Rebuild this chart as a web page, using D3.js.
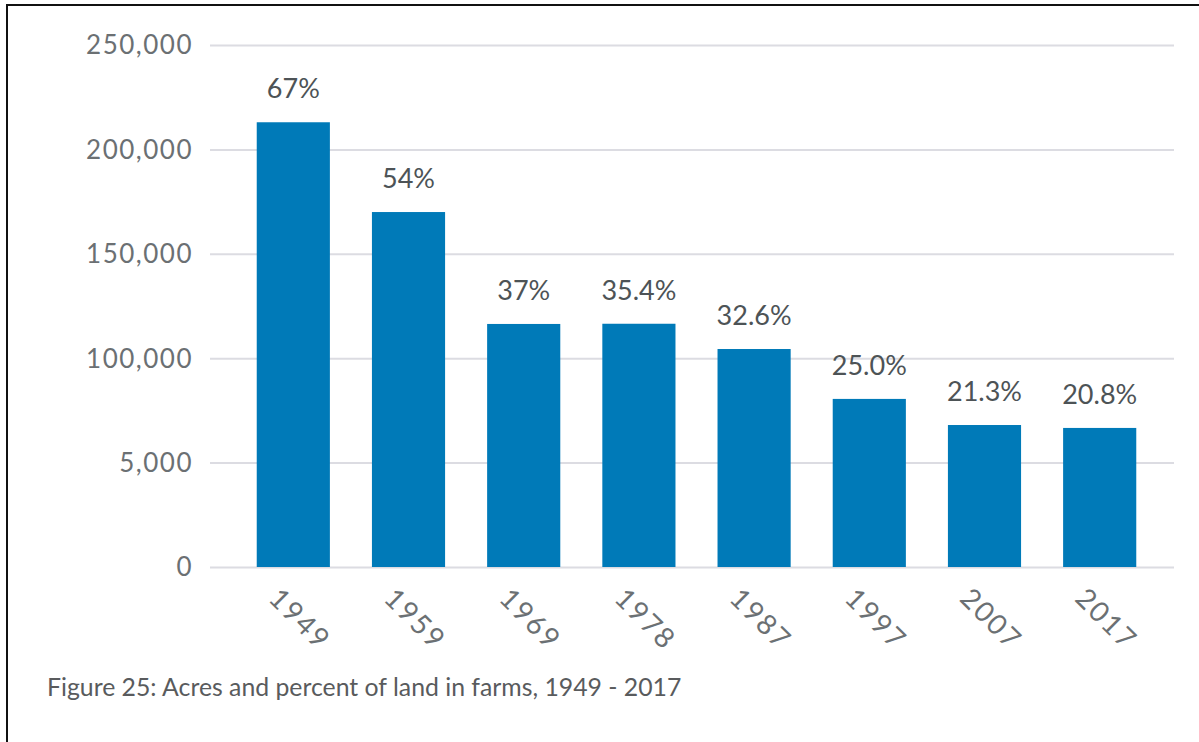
<!DOCTYPE html>
<html>
<head>
<meta charset="utf-8">
<script src="https://cdn.jsdelivr.net/npm/d3@7"></script>
<style>
  html, body { margin: 0; padding: 0; background: #fff; }
  svg { display: block; }
</style>
</head>
<body>
<div id="chart"></div>
<script>
// data
var years = ["1949", "1959", "1969", "1978", "1987", "1997", "2007", "2017"]
var acres = [213000, 170000, 116400, 116500, 104400, 80500, 68000, 66600]
var pctLabels = ["67%", "54%", "37%", "35.4%", "32.6%", "25.0%", "21.3%", "20.8%"]
var yTicks = [0, 50000, 100000, 150000, 200000, 250000]
var yTickLabels = ["0", "5,000", "100,000", "150,000", "200,000", "250,000"]
var caption = "Figure 25: Acres and percent of land in farms, 1949 - 2017"

var W = 1199, H = 742
var gridLeft = 210, gridRight = 1174

var svg = d3.select("#chart")
  .append("svg")
  .attr("width", W)
  .attr("height", H)

// frame lines (top and left)
svg.append("line")
  .attr("x1", 6).attr("x2", W).attr("y1", 5).attr("y2", 5)
  .attr("stroke", "#111").attr("stroke-width", 2)
svg.append("line")
  .attr("x1", 7).attr("x2", 7).attr("y1", 4).attr("y2", H)
  .attr("stroke", "#111").attr("stroke-width", 2)

var x = d3.scaleBand()
  .domain(years)
  .range([236, 1157])
  .paddingInner(0.365)
  .paddingOuter(0.18)

var y = d3.scaleLinear()
  .domain([0, 250000])
  .range([567, 45])

// y axis with gridlines
var yAxis = svg.append("g")
  .attr("transform", "translate(" + gridLeft + ",0)")
  .call(d3.axisRight(y)
    .tickValues(yTicks)
    .tickSize(gridRight - gridLeft)
    .tickFormat(function(d, i) { return yTickLabels[i] }))
yAxis.select(".domain").remove()
yAxis.selectAll(".tick line")
  .attr("stroke", "#dcdce2")
  .attr("stroke-width", 2)
yAxis.selectAll(".tick text")
  .attr("x", -17)
  .attr("dy", "0.34em")
  .attr("text-anchor", "end")
  .style("font-family", "Lato, 'Open Sans', sans-serif")
  .style("font-size", "26px")
  .style("letter-spacing", "1.5px")
  .attr("fill", "#6b7073")

// bars
svg.selectAll(".bar")
  .data(years)
  .enter()
  .append("rect")
  .attr("class", "bar")
  .attr("x", function(d) { return x(d) })
  .attr("y", function(d, i) { return y(acres[i]) })
  .attr("width", x.bandwidth())
  .attr("height", function(d, i) { return y(0) - y(acres[i]) })
  .attr("fill", "#007ab8")

// percent labels above bars
svg.selectAll(".pct")
  .data(years)
  .enter()
  .append("text")
  .attr("class", "pct")
  .attr("x", function(d) { return x(d) + x.bandwidth() / 2 })
  .attr("y", function(d, i) { return y(acres[i]) - 24 })
  .attr("text-anchor", "middle")
  .style("font-family", "Lato, 'Open Sans', sans-serif")
  .style("font-size", "27px")
  .attr("fill", "#4d5356")
  .text(function(d, i) { return pctLabels[i] })

// x axis labels, rotated
var xAxis = svg.append("g")
  .attr("transform", "translate(0," + y(0) + ")")
  .call(d3.axisBottom(x).tickSize(0))
xAxis.select(".domain").remove()
xAxis.selectAll(".tick text")
  .attr("y", 0)
  .attr("dy", 0)
  .attr("text-anchor", "start")
  .attr("transform", "translate(-26,33) rotate(45)")
  .style("font-family", "Lato, 'Open Sans', sans-serif")
  .style("font-size", "28px")
  .style("letter-spacing", "2px")
  .attr("fill", "#6b7073")

// caption
svg.append("text")
  .attr("x", 47)
  .attr("y", 696)
  .style("font-family", "Lato, 'Open Sans', sans-serif")
  .style("font-size", "24.8px")
  .attr("fill", "#595b5d")
  .text(caption)
</script>
</body>
</html>
